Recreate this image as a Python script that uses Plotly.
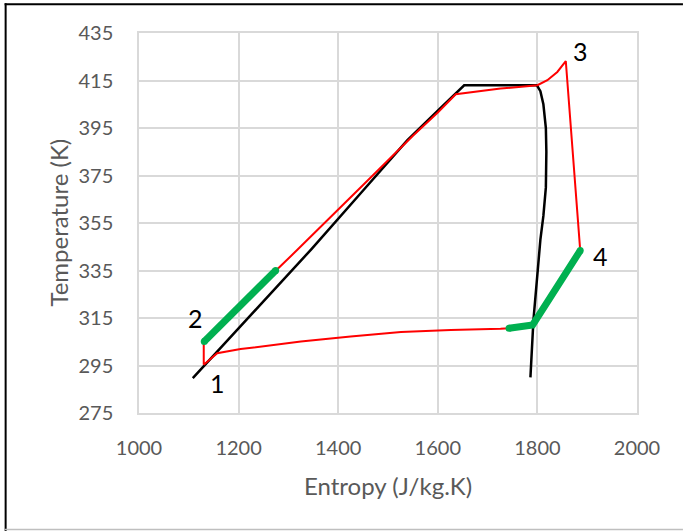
import plotly.graph_objects as go

# ---- data ----
# saturation dome (black)
sat_s = [1108, 1200, 1345, 1450, 1539, 1600, 1653, 1720, 1799, 1806, 1812, 1817, 1818, 1817, 1812, 1806, 1799, 1792, 1786]
sat_T = [289.7, 310.5, 343.7, 368.7, 389.9, 402.3, 413, 413, 413, 410.5, 405, 395, 385, 370, 358, 348, 332, 314, 290]

# cycle (red)
cyc_s = [1130, 1130, 1275, 1318, 1450, 1550, 1600, 1636, 1726, 1800, 1820, 1840, 1857,
         1886, 1854, 1820.5, 1790.4, 1743, 1726, 1626, 1526, 1425, 1325, 1204, 1157, 1130]
cyc_T = [295.3, 305.1, 335, 343.7, 371, 391.7, 401.5, 409.2, 411.6, 413, 415.1, 418.6, 423.2,
         343.4, 332.4, 321.9, 312.1, 310.7, 310.5, 310, 309.1, 307.2, 305.1, 301.9, 300.2, 295.3]

# highlighted heat-exchange segments (green)
g1_s = [1131, 1274.4]
g1_T = [305.1, 335]
g2_s = [1743, 1790.4, 1820.5, 1854, 1886]
g2_T = [310.7, 312.1, 321.9, 332.4, 343.4]

# state point labels
pt_labels = ["1", "2", "3", "4"]
pt_s = [1157, 1113.6, 1887, 1927.6]
pt_T = [287.6, 315, 427.3, 341.3]

x_ticks = [1000, 1200, 1400, 1600, 1800, 2000]
y_ticks = [275, 295, 315, 335, 355, 375, 395, 415, 435]

FONT = "Lato, Carlito, Calibri, 'Open Sans', sans-serif"
GRAY = "#595959"
GRID = "#d9d9d9"
GREEN = "#00b050"

fig = go.Figure()
fig.add_trace(go.Scatter(x=sat_s, y=sat_T, mode="lines",
                         line=dict(color="black", width=2.5), hoverinfo="skip"))
fig.add_trace(go.Scatter(x=cyc_s, y=cyc_T, mode="lines",
                         line=dict(color="#ff0000", width=2), hoverinfo="skip"))
for gs, gt in [(g1_s, g1_T), (g2_s, g2_T)]:
    fig.add_trace(go.Scatter(x=gs, y=gt, mode="lines",
                             line=dict(color=GREEN, width=7), hoverinfo="skip"))
    fig.add_trace(go.Scatter(x=[gs[0], gs[-1]], y=[gt[0], gt[-1]], mode="markers",
                             marker=dict(color=GREEN, size=7, line=dict(width=0)),
                             hoverinfo="skip"))

for lab, s, t in zip(pt_labels, pt_s, pt_T):
    fig.add_annotation(x=s, y=t, text=lab, showarrow=False,
                       font=dict(family=FONT, size=25, color="black"),
                       xanchor="center", yanchor="middle")

# plot area geometry (pixels)
L, R, T, B = 138.5, 637, 32.7, 413
W, H = 683, 531
pw, ph = R - L, B - T

def px(xp):
    return (xp - L) / pw

def py(yp):
    return (B - yp) / ph

fig.add_annotation(xref="paper", yref="paper", x=0.5, y=py(486), text="Entropy (J/kg.K)",
                   showarrow=False, font=dict(family=FONT, size=24, color=GRAY),
                   xanchor="center", yanchor="middle")
fig.add_annotation(xref="paper", yref="paper", x=px(57), y=0.5, text="Temperature (K)",
                   showarrow=False, textangle=-90, font=dict(family=FONT, size=24, color=GRAY),
                   xanchor="center", yanchor="middle")

# outer frame of the figure
fig.add_shape(type="line", xref="paper", yref="paper", x0=px(5), x1=px(5), y0=py(3), y1=py(531),
              line=dict(color="black", width=2))
fig.add_shape(type="line", xref="paper", yref="paper", x0=px(4), x1=px(683), y0=py(4), y1=py(4),
              line=dict(color="black", width=2))
fig.add_shape(type="line", xref="paper", yref="paper", x0=px(4), x1=px(683), y0=py(529.5), y1=py(529.5),
              line=dict(color="#bfbfbf", width=1.5))

fig.update_layout(
    width=W, height=H,
    margin=dict(l=L, r=W - R, t=T, b=H - B, pad=0),
    paper_bgcolor="white", plot_bgcolor="white",
    showlegend=False,
    font=dict(family=FONT),
)
fig.update_xaxes(range=[1000, 2000], tickvals=x_ticks, ticktext=[str(v) for v in x_ticks],
                 showgrid=True, gridcolor=GRID, gridwidth=1.5,
                 showline=True, linecolor=GRID, linewidth=1.5, mirror=True,
                 zeroline=False, ticks="", ticklabelstandoff=16,
                 tickfont=dict(family=FONT, size=20, color=GRAY))
fig.update_yaxes(range=[275, 435], tickvals=y_ticks, ticktext=[str(v) for v in y_ticks],
                 showgrid=True, gridcolor=GRID, gridwidth=1.5,
                 showline=True, linecolor=GRID, linewidth=1.5, mirror=True,
                 zeroline=False, ticks="", ticklabelstandoff=20,
                 tickfont=dict(family=FONT, size=20, color=GRAY))

fig.write_html("out.html")
